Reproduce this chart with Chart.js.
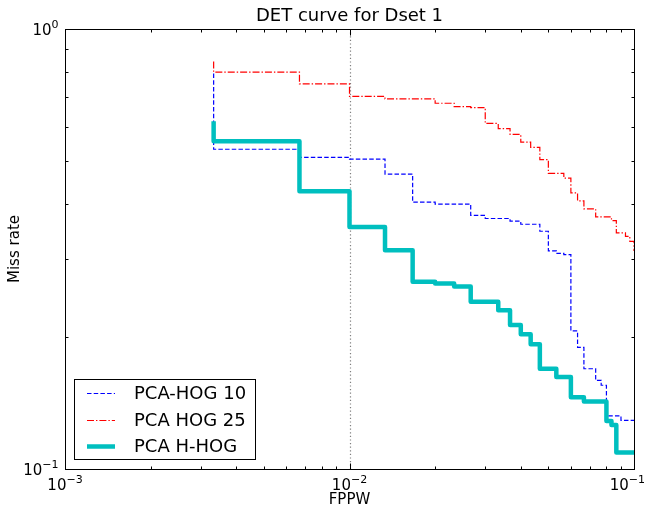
<!DOCTYPE html>
<html>
<head>
<meta charset="utf-8">
<title>DET curve for Dset 1</title>
<script src="https://cdn.jsdelivr.net/npm/chart.js@4.4.0/dist/chart.umd.min.js"></script>
<style>
    body { margin: 0; background: #ffffff; }
    #wrap { width: 647px; height: 512px; }
</style>
</head>
<body>
<div id="wrap"><canvas id="detChart" width="647" height="512"></canvas></div>
<script>
// Chart data
const chartTitle = 'DET curve for Dset 1';
const xLabel = 'FPPW';
const yLabel = 'Miss rate';
const refFppw = 0.01;

const xTickExps = [-3, -2, -1];
const yTickExps = [-1, 0];

const hog10Label = 'PCA-HOG 10';
const hog10Fppw = [0.00333, 0.00333, 0.00667, 0.01, 0.01333, 0.01667, 0.02, 0.02667, 0.03, 0.03667, 0.04, 0.04667, 0.05, 0.05333, 0.05667, 0.06, 0.06333, 0.06667, 0.07333, 0.07667, 0.08, 0.09, 0.1];
const hog10Miss = [0.792, 0.533, 0.511, 0.506, 0.468, 0.404, 0.400, 0.377, 0.371, 0.366, 0.360, 0.347, 0.313, 0.309, 0.307, 0.206, 0.189, 0.169, 0.159, 0.155, 0.132, 0.129, 0.129];

const hog25Label = 'PCA HOG 25';
const hog25Fppw = [0.00333, 0.00333, 0.00667, 0.01, 0.01333, 0.02, 0.02333, 0.02667, 0.03, 0.03333, 0.03667, 0.04, 0.04333, 0.04667, 0.05, 0.05667, 0.06, 0.06333, 0.06667, 0.07333, 0.08333, 0.08667, 0.09333, 0.09667, 0.1];
const hog25Miss = [0.844, 0.798, 0.750, 0.703, 0.694, 0.678, 0.666, 0.663, 0.610, 0.594, 0.576, 0.553, 0.538, 0.505, 0.470, 0.458, 0.424, 0.407, 0.390, 0.374, 0.367, 0.344, 0.338, 0.329, 0.313];

const hhogLabel = 'PCA H-HOG';
const hhogFppw = [0.00333, 0.00333, 0.00667, 0.01, 0.01333, 0.01667, 0.02, 0.02333, 0.02667, 0.03333, 0.03667, 0.04, 0.04333, 0.04667, 0.05333, 0.06, 0.06667, 0.08, 0.08333, 0.08667, 0.1];
const hhogMiss = [0.617, 0.556, 0.428, 0.355, 0.314, 0.2665, 0.264, 0.260, 0.240, 0.2296, 0.2125, 0.2025, 0.192, 0.169, 0.1618, 0.1456, 0.1424, 0.1286, 0.1259, 0.109, 0.109];

const FONT = '"DejaVu Sans", "Liberation Sans", sans-serif';

function toPoints(xs, ys) {
    return xs.map((x, i) => ({ x: x, y: ys[i] }));
}

// "10" with a superscript exponent, like matplotlib's log tick labels
function drawPow(ctx, exp, x, y, align, maxRight) {
    const base = '10';
    const sup = exp < 0 ? '\u2212' + Math.abs(exp) : String(exp);
    ctx.font = '15px ' + FONT;
    const wBase = ctx.measureText(base).width;
    ctx.font = '11px ' + FONT;
    const wSup = ctx.measureText(sup).width;
    const total = wBase + wSup;
    let left = x;
    if (align === 'center') left = x - total / 2;
    if (align === 'right') left = x - total;
    if (maxRight && left + total > maxRight) left = maxRight - total;
    ctx.textAlign = 'left';
    ctx.textBaseline = 'alphabetic';
    ctx.font = '15px ' + FONT;
    ctx.fillText(base, left, y);
    ctx.font = '11px ' + FONT;
    ctx.fillText(sup, left + wBase, y - 7);
}

// Dotted reference line at FPPW = 1e-2
const refLinePlugin = {
    id: 'refLine',
    beforeDatasetsDraw(chart) {
        const ctx = chart.ctx;
        const area = chart.chartArea;
        const px = Math.round(chart.scales.x.getPixelForValue(refFppw)) + 0.5;
        ctx.save();
        ctx.strokeStyle = '#7f7f7f';
        ctx.lineWidth = 1.2;
        ctx.setLineDash([1.2, 2.4]);
        ctx.beginPath();
        ctx.moveTo(px, area.top);
        ctx.lineTo(px, area.bottom);
        ctx.stroke();
        ctx.restore();
    }
};

// Frame, ticks, labels, title and legend drawn matplotlib style
const axesPlugin = {
    id: 'mplAxes',
    afterDraw(chart) {
        const ctx = chart.ctx;
        const a = chart.chartArea;
        const xs = chart.scales.x;
        const ys = chart.scales.y;
        ctx.save();
        ctx.fillStyle = '#000000';
        ctx.strokeStyle = '#000000';
        ctx.lineWidth = 1;
        ctx.setLineDash([]);

        const L = Math.round(a.left) + 0.5, R = Math.round(a.right) + 0.5;
        const T = Math.round(a.top) + 0.5, B = Math.round(a.bottom) + 0.5;
        ctx.strokeRect(L, T, R - L, B - T);

        ctx.beginPath();
        // x ticks (top and bottom, pointing in)
        for (let e = -3; e <= -1; e++) {
            for (let m = 1; m <= 9; m++) {
                const v = m * Math.pow(10, e);
                if (v > 0.1 + 1e-9) break;
                const px = Math.round(xs.getPixelForValue(v)) + 0.5;
                const len = m === 1 ? 6 : 3;
                ctx.moveTo(px, B); ctx.lineTo(px, B - len);
                ctx.moveTo(px, T); ctx.lineTo(px, T + len);
            }
        }
        // y ticks (left and right)
        for (let m = 1; m <= 10; m++) {
            const v = m / 10;
            const py = Math.round(ys.getPixelForValue(v)) + 0.5;
            const len = (m === 1 || m === 10) ? 6 : 3;
            ctx.moveTo(L, py); ctx.lineTo(L + len, py);
            ctx.moveTo(R, py); ctx.lineTo(R - len, py);
        }
        ctx.stroke();

        // tick labels
        xTickExps.forEach(e => {
            drawPow(ctx, e, xs.getPixelForValue(Math.pow(10, e)), B + 20, 'center', chart.width - 2);
        });
        yTickExps.forEach(e => {
            drawPow(ctx, e, L - 7, ys.getPixelForValue(Math.pow(10, e)) + 6, 'right');
        });

        // title and axis labels
        const cx = (a.left + a.right) / 2;
        ctx.textAlign = 'center';
        ctx.textBaseline = 'alphabetic';
        ctx.font = '18px ' + FONT;
        ctx.fillText(chartTitle, cx, 21);
        ctx.font = '15px ' + FONT;
        ctx.fillText(xLabel, cx, 504);
        ctx.save();
        ctx.translate(15, (a.top + a.bottom) / 2);
        ctx.rotate(-Math.PI / 2);
        ctx.textBaseline = 'middle';
        ctx.fillText(yLabel, 0, 0);
        ctx.restore();

        // legend box, lower left
        const box = { x: 74.5, y: 379.5, w: 181, h: 80 };
        ctx.fillStyle = '#ffffff';
        ctx.fillRect(box.x, box.y, box.w, box.h);
        ctx.strokeStyle = '#000000';
        ctx.lineWidth = 1;
        ctx.strokeRect(box.x, box.y, box.w, box.h);
        const rows = [393, 420, 446];
        const legendSets = chart.data.datasets.filter(d => d.inLegend);
        legendSets.forEach((ds, i) => {
            const y = rows[i] + 0.5;
            ctx.save();
            ctx.strokeStyle = ds.borderColor;
            ctx.lineWidth = ds.borderWidth;
            ctx.setLineDash(ds.borderDash || []);
            ctx.beginPath();
            ctx.moveTo(87, y);
            ctx.lineTo(115, y);
            ctx.stroke();
            ctx.restore();
            ctx.fillStyle = '#000000';
            ctx.font = '18px ' + FONT;
            ctx.textAlign = 'left';
            ctx.textBaseline = 'middle';
            ctx.fillText(ds.label, 134, y + 1);
        });
        ctx.restore();
    }
};

document.addEventListener('DOMContentLoaded', function () {
    const ctx = document.getElementById('detChart').getContext('2d');
    window.detChart = new Chart(ctx, {
        type: 'line',
        data: {
            datasets: [{
                label: hog10Label,
                inLegend: true,
                data: toPoints(hog10Fppw, hog10Miss),
                borderColor: '#0000ff',
                borderWidth: 1.2,
                borderDash: [4.5, 2.2],
                order: 2
            }, {
                label: hog25Label,
                inLegend: true,
                data: toPoints(hog25Fppw, hog25Miss),
                borderColor: '#ff0000',
                borderWidth: 1.2,
                borderDash: [7, 2, 1.4, 2],
                order: 1
            }, {
                label: hhogLabel,
                inLegend: true,
                data: toPoints(hhogFppw, hhogMiss),
                borderColor: '#00bfbf',
                borderWidth: 4.5,
                borderJoinStyle: 'round',
                order: 0
            }]
        },
        options: {
            responsive: false,
            animation: false,
            devicePixelRatio: 1,
            layout: { padding: { left: 65, top: 29, right: 13, bottom: 43 } },
            elements: {
                point: { radius: 0, hoverRadius: 0 },
                // horizontal run first, then the drop (ROC/DET staircase)
                line: { stepped: 'before', tension: 0, fill: false }
            },
            plugins: {
                legend: { display: false },
                title: { display: false },
                tooltip: { enabled: false }
            },
            scales: {
                x: { type: 'logarithmic', min: 0.001, max: 0.1, display: false },
                y: { type: 'logarithmic', min: 0.1, max: 1, display: false }
            }
        },
        plugins: [refLinePlugin, axesPlugin]
    });
});
</script>
</body>
</html>
